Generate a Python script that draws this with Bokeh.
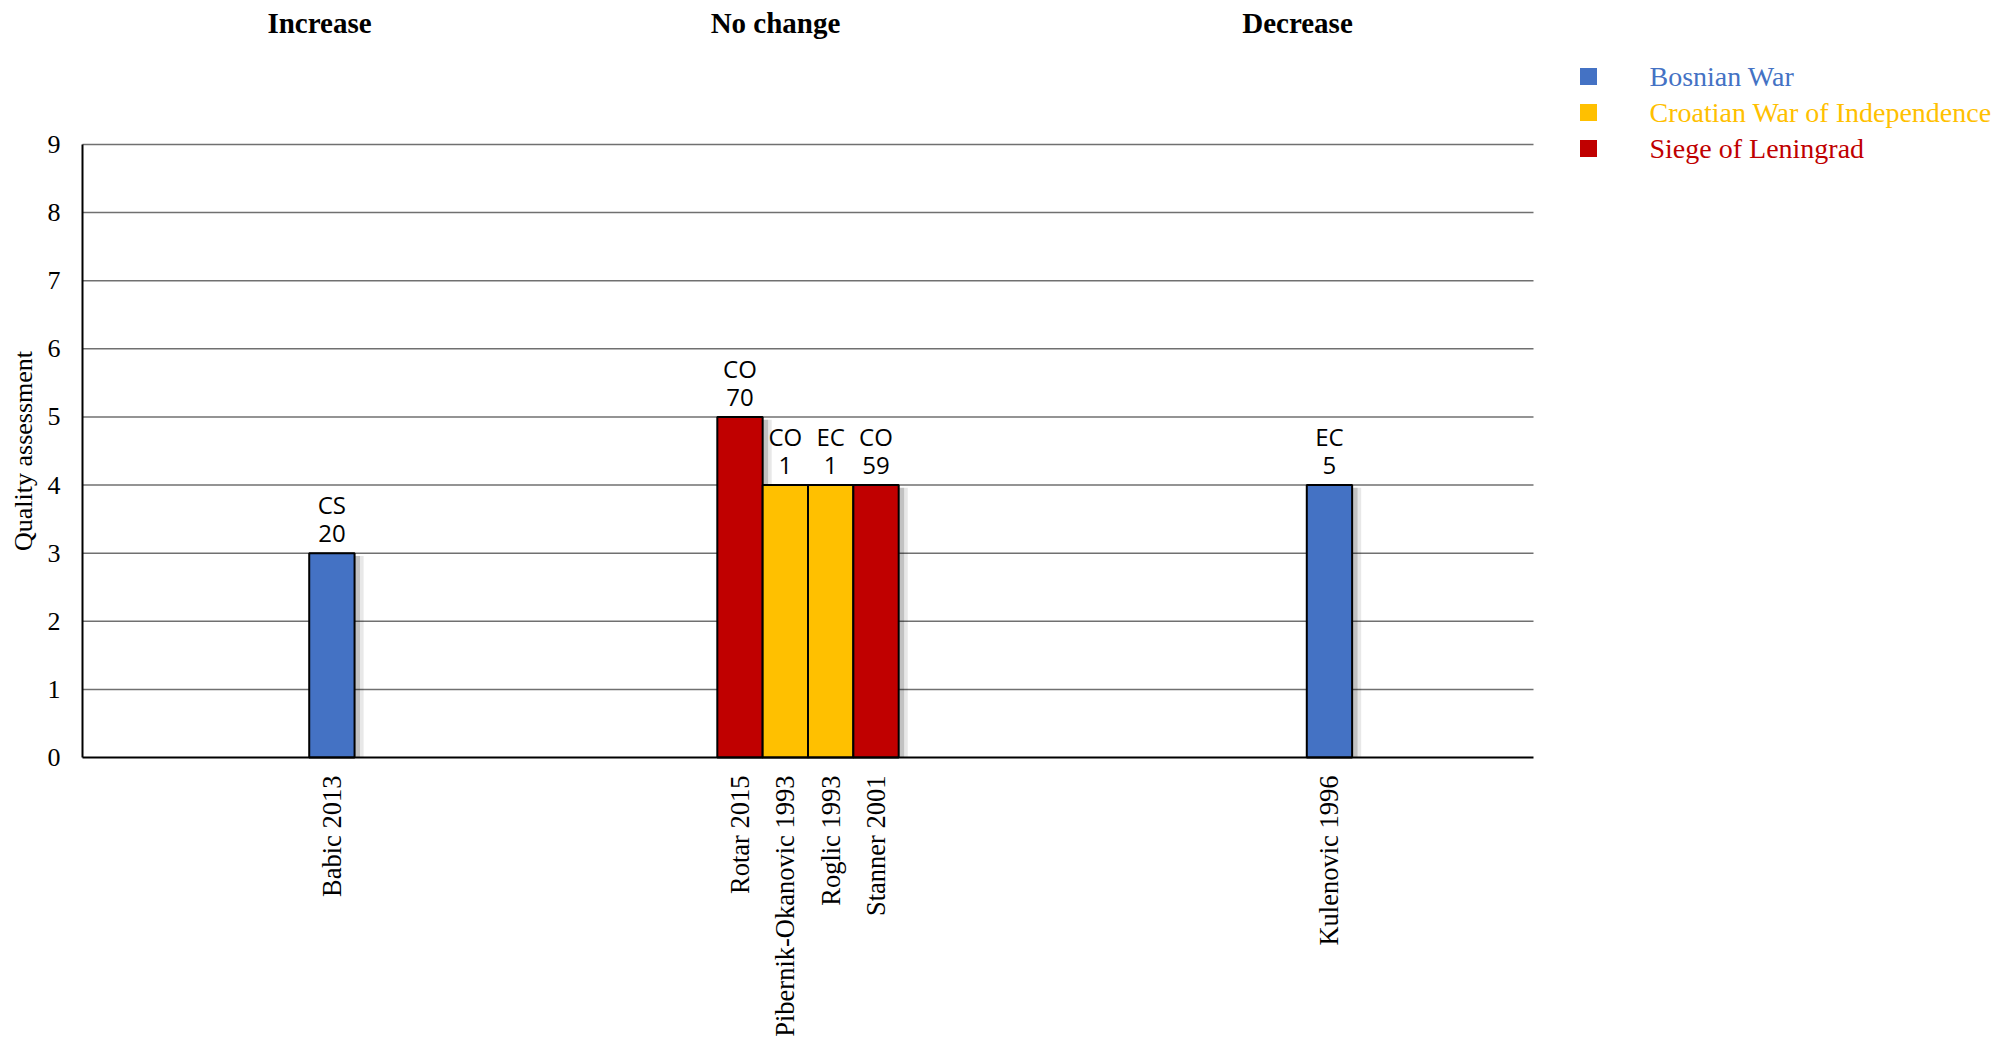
import math
from bokeh.plotting import figure
from bokeh.models import ColumnDataSource, Range1d, FixedTicker
from bokeh.core.properties import value
from bokeh.embed import file_html
from bokeh.resources import INLINE

# ---------------- data ----------------
studies = ["Babic 2013", "Rotar 2015", "Pibernik-Okanovic 1993", "Roglic 1993", "Stanner 2001", "Kulenovic 1996"]
quality = [3, 5, 4, 4, 4, 4]
design = ["CS", "CO", "CO", "EC", "CO", "EC"]
sample_n = [20, 70, 1, 1, 59, 5]
conflict = ["Bosnian War", "Siege of Leningrad", "Croatian War of Independence",
            "Croatian War of Independence", "Siege of Leningrad", "Bosnian War"]
groups = ["Increase", "No change", "Decrease"]
conflicts = ["Bosnian War", "Croatian War of Independence", "Siege of Leningrad"]
conflict_colors = ["#4472C4", "#FFC000", "#C00000"]
y_ticks = [0, 1, 2, 3, 4, 5, 6, 7, 8, 9]
y_title = "Quality assessment"

# ---------------- layout ----------------
n_slots = 32                     # category slots on the x axis
slot = [5, 14, 15, 16, 17, 27]   # slot of each study
y_max = 9
CANVAS_W, CANVAS_H = 1995, 1038
LEFT, TOP, PLOT_W, PLOT_H = 82, 144, 1451, 613   # chart area in canvas pixels
px_x = PLOT_W / n_slots
px_y = PLOT_H / y_max
x_start = -LEFT / px_x
x_end = x_start + CANVAS_W / px_x
y_end = y_max + TOP / px_y
y_start = y_end - CANVAS_H / px_y

def cx(px):   # canvas x pixel -> data
    return x_start + px / px_x

def cy(py):   # canvas y pixel (from top) -> data
    return y_end - py / px_y

header_x = [cx(319), cx(775), cx(1297)]
header_y = cy(22)
leg_sq_x = cx(1588)
leg_tx_x = cx(1649)
leg_y = [cy(76 + 36 * i) for i in range(len(conflicts))]
title_x = cx(23)

cmap = dict(zip(conflicts, conflict_colors))
xs = [s + 0.5 for s in slot]
src = ColumnDataSource(dict(
    x=xs,
    xs1=[x + 0.12 for x in xs],
    xs2=[x + 0.2 for x in xs],
    top=quality,
    stop=[q - 0.04 for q in quality],
    color=[cmap[c] for c in conflict],
    label=[f"{d}\n{n}" for d, n in zip(design, sample_n)],
))

SERIF = "Liberation Serif"

p = figure(frame_width=CANVAS_W, frame_height=CANVAS_H, output_backend="svg",
           toolbar_location=None, x_range=Range1d(x_start, x_end), y_range=Range1d(y_start, y_end),
           min_border=0)
p.outline_line_color = None
p.background_fill_color = "white"
p.xgrid.grid_line_color = None
p.ygrid.grid_line_color = None

# horizontal grid lines, limited to the chart area
gl = [t for t in y_ticks if t > 0]
p.segment(x0=[0] * len(gl), x1=[n_slots] * len(gl), y0=gl, y1=gl, line_color="#707070", line_width=1.5)

# shadows
p.vbar(x="xs2", width=1, top="stop", bottom=0, source=src, fill_color="black", fill_alpha=0.09, line_color=None)
p.vbar(x="xs1", width=1, top="stop", bottom=0, source=src, fill_color="black", fill_alpha=0.16, line_color=None)
# bars
p.vbar(x="x", width=1, top="top", bottom=0, source=src, fill_color="color", line_color="black", line_width=2)
# data labels
p.text(x="x", y="top", text="label", source=src, text_align="center", text_baseline="bottom",
       y_offset=-4, text_font=value("Open Sans"), text_font_size="24px", text_color="black",
       text_line_height=0.86)

# axes (fixed at the chart origin)
p.xaxis.fixed_location = 0
p.xaxis.bounds = (0, n_slots)
p.xaxis.ticker = FixedTicker(ticks=xs)
p.xaxis.major_label_overrides = {x: s for x, s in zip(xs, studies)}
p.xaxis.major_label_orientation = math.pi / 2
p.xaxis.major_label_text_font = SERIF
p.xaxis.major_label_text_font_size = "26.5px"
p.xaxis.major_label_text_color = "black"
p.xaxis.major_label_standoff = 12
p.xaxis.major_tick_line_color = None
p.xaxis.minor_tick_line_color = None
p.xaxis.axis_line_color = "black"
p.xaxis.axis_line_width = 2

p.yaxis.fixed_location = 0
p.yaxis.bounds = (0, y_max)
p.yaxis.ticker = FixedTicker(ticks=y_ticks)
p.yaxis.major_label_text_font = SERIF
p.yaxis.major_label_text_font_size = "26px"
p.yaxis.major_label_text_color = "black"
p.yaxis.major_label_standoff = 16
p.yaxis.major_tick_line_color = None
p.yaxis.minor_tick_line_color = None
p.yaxis.axis_line_color = "black"
p.yaxis.axis_line_width = 2

# y-axis title
p.text(x=[title_x], y=[y_max / 2], text=[y_title], angle=math.pi / 2, text_align="center",
       text_baseline="middle", text_font=value(SERIF), text_font_size="26px", text_color="black")

# group headers
p.text(x=header_x, y=[header_y] * len(groups), text=groups, text_align="center", text_baseline="middle",
       text_font=value(SERIF), text_font_size="29px", text_font_style="bold", text_color="black")

# legend (text coloured per series)
lsrc = ColumnDataSource(dict(x=[leg_sq_x] * len(conflicts), tx=[leg_tx_x] * len(conflicts), y=leg_y,
                             name=conflicts, color=conflict_colors))
p.scatter(x="x", y="y", source=lsrc, marker="square", size=17, fill_color="color", line_color=None)
p.text(x="tx", y="y", text="name", source=lsrc, text_color="color", text_baseline="middle",
       text_font=value(SERIF), text_font_size="28px")

open("out.html", "w").write(file_html(p, INLINE))
